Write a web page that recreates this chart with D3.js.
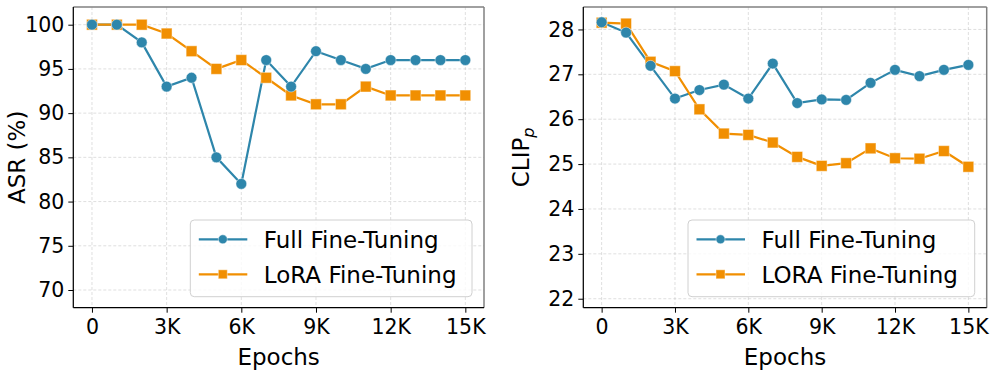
<!DOCTYPE html>
<html>
<head>
<meta charset="utf-8">
<script src="https://cdn.jsdelivr.net/npm/d3@7"></script>
<style>
  body { margin: 0; background: #fff; }
  svg { font-family: "DejaVu Sans", sans-serif; }
</style>
</head>
<body>
<div id="chart"></div>
<script>
var epochs = [0, 1000, 2000, 3000, 4000, 5000, 6000, 7000, 8000, 9000, 10000, 11000, 12000, 13000, 14000, 15000];
var xTicks = [0, 3000, 6000, 9000, 12000, 15000];

var asrFull = [100, 100, 98, 93, 94, 85, 82, 96, 93, 97, 96, 95, 96, 96, 96, 96];
var asrLora = [100, 100, 100, 99, 97, 95, 96, 94, 92, 91, 91, 93, 92, 92, 92, 92];
var asrTicks = [70, 75, 80, 85, 90, 95, 100];

var clipFull = [28.16, 27.93, 27.19, 26.46, 26.65, 26.77, 26.46, 27.24, 26.36, 26.44, 26.43, 26.81, 27.10, 26.96, 27.10, 27.21];
var clipLora = [28.15, 28.13, 27.28, 27.07, 26.22, 25.68, 25.65, 25.48, 25.16, 24.96, 25.02, 25.35, 25.13, 25.12, 25.29, 24.94];
var clipTicks = [22, 23, 24, 25, 26, 27, 28];

var blue = "#2E86AB", orange = "#F18F01";

var svg = d3.select("#chart").append("svg")
    .attr("width", 997)
    .attr("height", 378);

function panel(opts) {
    var left = opts.left, right = opts.right, top = 7, bottom = 307.7;

    var x = d3.scaleLinear().domain([-750, 15750]).range([left, right]);
    var y = d3.scaleLinear().domain(opts.yDomain).range([bottom, top]);

    var g = svg.append("g");

    // grid
    g.selectAll(".gx").data(xTicks).enter().append("line")
        .attr("x1", function(d) { return x(d); }).attr("x2", function(d) { return x(d); })
        .attr("y1", top).attr("y2", bottom)
        .attr("stroke", "#b0b0b0").attr("stroke-opacity", 0.5)
        .attr("stroke-width", 0.8).attr("stroke-dasharray", "3,2");
    g.selectAll(".gy").data(opts.yTicks).enter().append("line")
        .attr("x1", left).attr("x2", right)
        .attr("y1", function(d) { return y(d); }).attr("y2", function(d) { return y(d); })
        .attr("stroke", "#b0b0b0").attr("stroke-opacity", 0.5)
        .attr("stroke-width", 0.8).attr("stroke-dasharray", "3,2");

    // spines
    g.append("line").attr("x1", left).attr("x2", right).attr("y1", top).attr("y2", top)
        .attr("stroke", "#808080").attr("stroke-width", 1.5);
    g.append("line").attr("x1", right).attr("x2", right).attr("y1", top).attr("y2", bottom)
        .attr("stroke", "#808080").attr("stroke-width", 1.5);

    // axes
    var xAxis = d3.axisBottom(x).tickValues(xTicks)
        .tickFormat(function(d) { return d === 0 ? "0" : (d / 1000) + "K"; })
        .tickSize(5).tickPadding(6);
    var gx = g.append("g").attr("transform", "translate(0," + bottom + ")").call(xAxis);
    var yAxis = d3.axisLeft(y).tickValues(opts.yTicks).tickFormat(d3.format("d"))
        .tickSize(5).tickPadding(4);
    var gy = g.append("g").attr("transform", "translate(" + left + ",0)").call(yAxis);
    [gx, gy].forEach(function(a) {
        a.select(".domain").remove();
        a.selectAll("line").attr("stroke", "#000").attr("stroke-width", 1);
        a.selectAll("text").attr("font-size", 20.5).attr("fill", "#000")
            .attr("font-family", "DejaVu Sans");
    });
    gx.selectAll("text").attr("dy", "0.75em");
    g.append("line").attr("x1", left).attr("x2", left).attr("y1", top).attr("y2", bottom)
        .attr("stroke", "#000").attr("stroke-width", 1.25);
    g.append("line").attr("x1", left).attr("x2", right).attr("y1", bottom).attr("y2", bottom)
        .attr("stroke", "#000").attr("stroke-width", 1.25);

    // series
    var line = d3.line()
        .x(function(d, i) { return x(epochs[i]); })
        .y(function(d) { return y(d); });

    g.append("path").datum(opts.full).attr("d", line)
        .attr("fill", "none").attr("stroke", blue).attr("stroke-width", 2.2);
    g.append("path").datum(opts.lora).attr("d", line)
        .attr("fill", "none").attr("stroke", orange).attr("stroke-width", 2.2);

    g.selectAll(".sq").data(opts.lora).enter().append("rect")
        .attr("x", function(d, i) { return x(epochs[i]) - 5.4; })
        .attr("y", function(d) { return y(d) - 5.4; })
        .attr("width", 10.8).attr("height", 10.8)
        .attr("fill", orange).attr("stroke", "#fff").attr("stroke-opacity", 0.45).attr("stroke-width", 1);
    g.selectAll(".dot").data(opts.full).enter().append("circle")
        .attr("cx", function(d, i) { return x(epochs[i]); })
        .attr("cy", function(d) { return y(d); })
        .attr("r", 5.4)
        .attr("fill", blue).attr("stroke", "#fff").attr("stroke-opacity", 0.45).attr("stroke-width", 1);

    // labels
    g.append("text")
        .attr("x", (left + right) / 2).attr("y", 365)
        .attr("text-anchor", "middle").attr("font-size", 23)
        .text("Epochs");
    var yl = g.append("text")
        .attr("transform", "translate(" + opts.yLabelX + "," + (top + bottom) / 2 + ") rotate(-90)")
        .attr("text-anchor", "middle").attr("font-size", 23);
    yl.append("tspan").text(opts.yLabel);
    if (opts.ySub) {
        yl.append("tspan").attr("font-size", 16).attr("font-style", "italic")
            .attr("dy", 5).text(opts.ySub);
    }

    // legend
    var lw = opts.legendW, lh = 76.7;
    var lx = right - 12 - lw, ly = bottom - 11 - lh;
    var lg = g.append("g").attr("transform", "translate(" + lx + "," + ly + ")");
    lg.append("rect").attr("width", lw).attr("height", lh).attr("rx", 4)
        .attr("fill", "#fff").attr("fill-opacity", 0.8)
        .attr("stroke", "#d0d0d0").attr("stroke-width", 1);
    var items = [
        {name: "Full Fine-Tuning", color: blue, shape: "circle"},
        {name: opts.loraName, color: orange, shape: "square"}
    ];
    items.forEach(function(it, i) {
        var cy = 19.3 + i * 35;
        lg.append("line").attr("x1", 8.5).attr("x2", 57).attr("y1", cy).attr("y2", cy)
            .attr("stroke", it.color).attr("stroke-width", 2.2);
        if (it.shape === "circle") {
            lg.append("circle").attr("cx", 32.5).attr("cy", cy).attr("r", 4.5)
                .attr("fill", it.color).attr("stroke", "#fff").attr("stroke-opacity", 0.45);
        } else {
            lg.append("rect").attr("x", 32.5 - 4.5).attr("y", cy - 4.5)
                .attr("width", 9).attr("height", 9)
                .attr("fill", it.color).attr("stroke", "#fff").attr("stroke-opacity", 0.45);
        }
        lg.append("text").attr("x", 73.5).attr("y", cy + 8.3)
            .attr("font-size", 23).attr("fill", "#000").text(it.name);
    });
}

panel({
    left: 73.3, right: 484,
    yDomain: [68, 102], yTicks: asrTicks,
    full: asrFull, lora: asrLora,
    yLabel: "ASR (%)", yLabelX: 25, legendW: 281.7,
    loraName: "LoRA Fine-Tuning"
});

panel({
    left: 583.3, right: 986.7,
    yDomain: [21.8, 28.5], yTicks: clipTicks,
    full: clipFull, lora: clipLora,
    yLabel: "CLIP", ySub: "p", yLabelX: 529, legendW: 286.7,
    loraName: "LORA Fine-Tuning"
});
</script>
</body>
</html>
